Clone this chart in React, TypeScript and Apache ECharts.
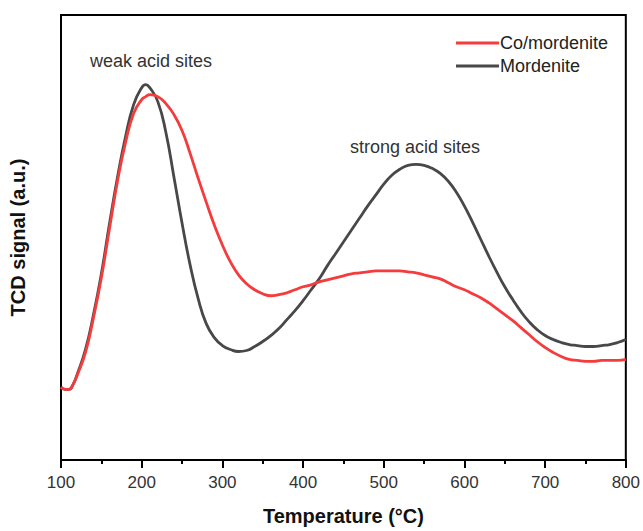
import React, { useEffect, useRef } from "react";
import * as echarts from "echarts";

const temps: number[] = [
  100, 105, 110, 115, 120, 130, 140, 150, 160, 170, 180, 190, 200, 205, 210, 220, 230, 240, 250, 260, 270, 280,
  290, 300, 310, 320, 330, 340, 350, 360, 370, 380, 390, 400, 410, 420, 430, 440, 450, 460, 470, 480,
  490, 500, 510, 520, 530, 540, 550, 560, 570, 580, 590, 600, 610, 620, 630, 640, 650, 660, 670, 680,
  690, 700, 710, 720, 730, 740, 750, 760, 770, 780, 790, 800,
];

const coMordenite: number[] = [
  73, 71, 71, 76, 85, 107, 142, 183, 232, 280, 319, 348, 362, 365, 367, 365, 358, 347, 331, 308, 283, 259,
  236, 216, 199, 186, 177, 171, 167, 165, 166, 168, 171, 174, 176, 179, 181, 183, 185, 187, 188, 189,
  190, 190, 190, 190, 189, 188, 186, 184, 182, 178, 174, 171, 167, 163, 158, 152, 146, 140, 133, 126,
  119, 113, 108, 104, 101, 100, 99, 99, 100, 100, 100, 101,
];

const mordenite: number[] = [
  73, 71, 71, 76, 86, 110, 145, 187, 237, 284, 325, 357, 374, 377, 374, 360, 329, 284, 238, 196, 162, 137,
  123, 115, 111, 109, 110, 114, 119, 125, 132, 141, 150, 160, 171, 182, 195, 207, 219, 231, 243, 255,
  266, 277, 286, 292, 296, 297, 296, 293, 288, 280, 269, 255, 239, 222, 205, 189, 174, 161, 149, 139,
  131, 125, 121, 118, 116, 115, 114, 114, 115, 116, 118, 121,
];

const seriesNames = ["Co/mordenite", "Mordenite"];
const xTicks = { min: 100, max: 800, interval: 100 };
const annotations = ["weak acid sites", "strong acid sites"];

export default function App() {
  const ref = useRef<HTMLDivElement>(null);
  useEffect(() => {
    if (!ref.current) return;
    const chart = echarts.init(ref.current, null, { renderer: "svg" });
    const font = "'Liberation Sans', Arial, sans-serif";
    chart.setOption({
      animation: false,
      grid: {
        left: 58,
        right: 16,
        top: 15,
        bottom: 69,
        show: true,
        borderColor: "#000",
        borderWidth: 2,
        backgroundColor: "transparent",
      },
      legend: {
        orient: "vertical",
        left: 451,
        top: 29,
        icon: "rect",
        itemWidth: 43,
        itemHeight: 3,
        itemGap: 5,
        textStyle: { fontFamily: font, fontSize: 18, color: "#222", padding: [0, 0, 0, -4] },
        data: seriesNames,
      },
      xAxis: {
        type: "value",
        min: xTicks.min,
        max: xTicks.max,
        interval: xTicks.interval,
        name: "Temperature (°C)",
        nameLocation: "middle",
        nameGap: 46,
        nameTextStyle: { fontFamily: font, fontSize: 20, fontWeight: "bold", color: "#111" },
        axisLine: { show: true, lineStyle: { color: "#000", width: 2 } },
        axisTick: { show: true, length: 8, lineStyle: { color: "#000", width: 2 } },
        minorTick: { show: true, splitNumber: 2, length: 4, lineStyle: { color: "#000", width: 2 } },
        axisLabel: { fontFamily: font, fontSize: 17, color: "#333", margin: 14 },
        splitLine: { show: false },
      },
      yAxis: {
        type: "value",
        min: 0,
        max: 447,
        name: "TCD signal (a.u.)",
        nameLocation: "middle",
        nameGap: 33,
        nameTextStyle: { fontFamily: font, fontSize: 20, fontWeight: "bold", color: "#111" },
        axisLine: { show: true, lineStyle: { color: "#000", width: 2 } },
        axisTick: { show: false },
        axisLabel: { show: false },
        splitLine: { show: false },
      },
      graphic: [
        {
          type: "text",
          left: 90,
          top: 52,
          style: { text: annotations[0], fontFamily: font, fontSize: 18, fill: "#333" },
        },
        {
          type: "text",
          left: 350,
          top: 138,
          style: { text: annotations[1], fontFamily: font, fontSize: 18, fill: "#333" },
        },
      ],
      series: [
        {
          name: seriesNames[0],
          type: "line",
          data: temps.map((t, i) => [t, coMordenite[i]]),
          showSymbol: false,
          smooth: 0.5,
          lineStyle: { color: "#f53b3b", width: 2.8 },
          itemStyle: { color: "#f53b3b" },
          z: 3,
        },
        {
          name: seriesNames[1],
          type: "line",
          data: temps.map((t, i) => [t, mordenite[i]]),
          showSymbol: false,
          smooth: 0.5,
          lineStyle: { color: "#484848", width: 2.8 },
          itemStyle: { color: "#484848" },
          z: 2,
        },
      ],
    });
    return () => chart.dispose();
  }, []);
  return <div ref={ref} style={{ width: 643, height: 531, position: "absolute", left: 0, top: 0 }} />;
}
